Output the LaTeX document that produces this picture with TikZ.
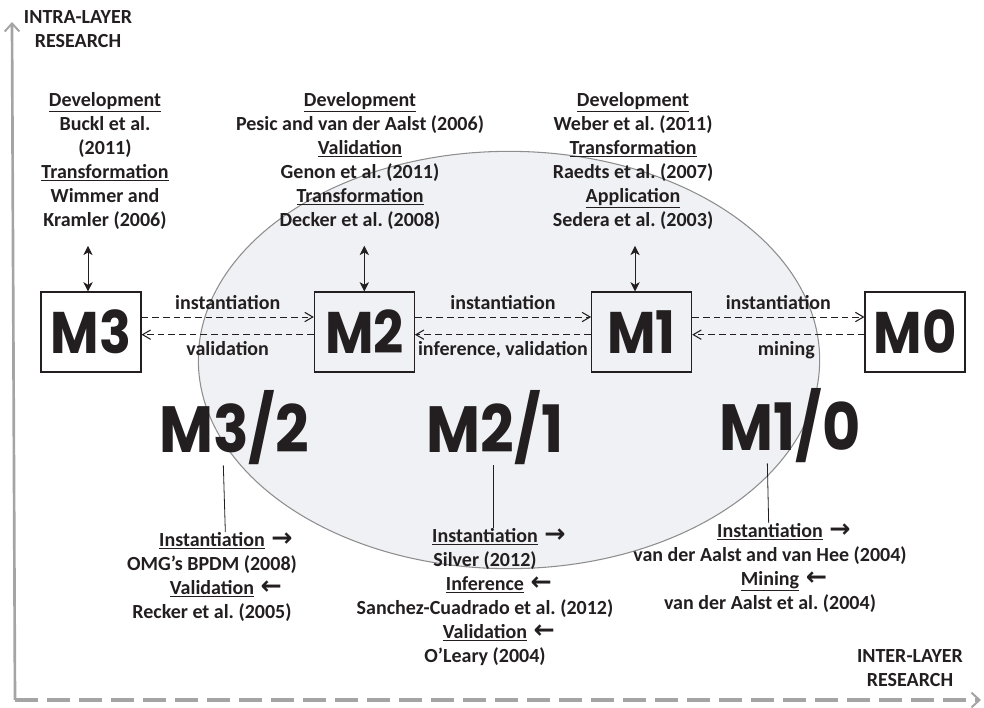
\documentclass[tikz,border=0pt]{standalone}
\usepackage{fontspec}
\setmainfont{Carlito}
\newfontfamily\mfont{Poppins}[FakeStretch=0.9]
\newfontfamily\arrowfont{DejaVu Sans}
\usetikzlibrary{shapes.geometric, arrows.meta, positioning}
\definecolor{inkgray}{HTML}{231F20}
\definecolor{axisgray}{HTML}{A4A4A4}
\definecolor{ovalfill}{HTML}{F0F1F4}
\definecolor{ovaledge}{HTML}{8E8E8E}
\tikzstyle{layerbox} = [rectangle,
minimum width=75pt,
minimum height=60pt,
inner sep=0pt,
text=inkgray,
font=\mfont\bfseries\fontsize{44}{44}\selectfont,
draw=inkgray, line width=0.8pt]
\tikzstyle{littext} = [align=center,
inner sep=0pt,
text=inkgray,
font=\bfseries\fontsize{15}{18}\selectfont]
\tikzstyle{pairlabel} = [inner sep=0pt,
text=inkgray,
font=\mfont\bfseries\fontsize{49}{49}\selectfont]
\tikzstyle{flow} = [dash pattern=on 5pt off 3pt, line width=0.7pt, draw=inkgray,
-{Straight Barb[length=6pt, width=7pt, line width=0.8pt]}]
\tikzstyle{twoway} = [line width=0.6pt, draw=inkgray,
{Stealth[length=7pt, width=7pt, inset=2pt]}-{Stealth[length=7pt, width=7pt, inset=2pt]}]
\newcommand{\ra}{\hspace{5pt}{\arrowfont\bfseries\fontsize{19}{18}\selectfont→}}
\newcommand{\la}{\hspace{5pt}{\arrowfont\bfseries\fontsize{19}{18}\selectfont←}}
\frenchspacing

\begin{document}
\begin{tikzpicture}[x=0.75pt, y=-0.75pt, node distance=205pt]
		\useasboundingbox (0,0) rectangle (984,707);
		% axes
		\coordinate (origin) at (15,700);
		\coordinate (ytop) at (12,22);
		\coordinate (xend) at (981,700);
		\draw [axisgray, line width=2pt, -{Straight Barb[length=6pt, width=11pt, line width=1.5pt]}] (origin) -- (ytop);
		\draw [axisgray, line width=2.4pt, dash pattern=on 17pt off 7pt, -{Straight Barb[length=6pt, width=11pt, line width=1.5pt]}] (origin) -- (xend);
		\node (intra) [littext] at (78,29) {INTRA-LAYER\\RESEARCH};
		\node (inter) [littext] at (910,668) {INTER-LAYER\\RESEARCH};
		
		% intra-layer area
		\node (oval) [ellipse, draw=ovaledge, fill=ovalfill, line width=0.8pt, minimum width=466pt, minimum height=313pt] at (509,360) {};
		
		% layers
		\node (m3) [layerbox] at (91,332) {M3};
		\node (m2) [layerbox, right of=m3] {M2};
		\node (m1) [layerbox, right of=m2, xshift=3pt] {M1};
		\node (m0) [layerbox, right of=m1] {M0};
		
		% literature on each layer
		\node (lit3) [littext] at (105,161) {\underline{Development}\\Buckl et al.\\(2011)\\\underline{Transformation}\\Wimmer and\\Kramler (2006)};
		\node (lit2) [littext] at (360,161) {\underline{Development}\\Pesic and van der Aalst (2006)\\\underline{Validation}\\Genon et al. (2011)\\\underline{Transformation}\\Decker et al. (2008)};
		\node (lit1) [littext] at (633,161) {\underline{Development}\\Weber et al. (2011)\\\underline{Transformation}\\Raedts et al. (2007)\\\underline{Application}\\Sedera et al. (2003)};
		
		\draw [twoway, shorten <=12pt] ([xshift=-2.25pt]m3.north |- lit3.south) -- ([xshift=-2.25pt]m3.north);
		\draw [twoway, shorten <=12pt] (m2.north |- lit2.south) -- (m2.north);
		\draw [twoway, shorten <=12pt] ([xshift=-5pt]m1.north |- lit1.south) -- ([xshift=-5pt]m1.north);
		
		% between the layers
		\draw [flow] ([yshift=11.25pt]m3.east) -- node [littext, above=5pt] {instantiation} ([yshift=11.25pt]m2.west);
		\draw [flow] ([yshift=-2pt]m2.west) -- node [littext, below=5pt] {validation} ([yshift=-2pt]m3.east);
		\draw [flow] ([yshift=11.25pt]m2.east) -- node [littext, above=5pt] {instantiation} ([yshift=11.25pt]m1.west);
		\draw [flow] ([yshift=-2pt]m1.west) -- node [littext, below=5pt] {inference, validation} ([yshift=-2pt]m2.east);
		\draw [flow] ([yshift=11.25pt]m1.east) -- node [littext, above=5pt] {instantiation} ([yshift=11.25pt]m0.west);
		\draw [flow] ([yshift=-2pt]m0.west) -- node [littext, below=5pt, xshift=6pt] {mining} ([yshift=-2pt]m1.east);
		
		% inter-layer research
		\node (m32) [pairlabel] at (234,428) {M3/2};
		\node (m21) [pairlabel] at (495,428) {M2/1};
		\node (m10) [pairlabel] at (790,426) {M1/0};
		
		\node (lit32) [littext, anchor=north] at (212,532) {\underline{Instantiation}\rlap{\ra}\\OMG’s BPDM (2008)\\\underline{Validation}\rlap{\la}\\Recker et al. (2005)};
		\node (lit21) [littext, anchor=north] at (485,528) {\underline{Instantiation}\rlap{\ra}\\Silver (2012)\\\underline{Inference}\rlap{\la}\\Sanchez-Cuadrado et al. (2012)\\\underline{Validation}\rlap{\la}\\O’Leary (2004)};
		\node (lit10) [littext, anchor=north] at (770,523) {\underline{Instantiation}\rlap{\ra}\\van der Aalst and van Hee (2004)\\\underline{Mining}\rlap{\la}\\van der Aalst et al. (2004)};
		
		\draw [inkgray, line width=0.6pt] ([xshift=-8pt]m32.south) -- ([xshift=10pt]lit32.north);
		\draw [inkgray, line width=0.6pt] ([xshift=-1.5pt]m21.south) -- ([xshift=6pt]lit21.north);
		\draw [inkgray, line width=0.6pt] ([xshift=-17pt]m10.south) -- ([xshift=-1pt]lit10.north);
	\end{tikzpicture}
\end{document}
